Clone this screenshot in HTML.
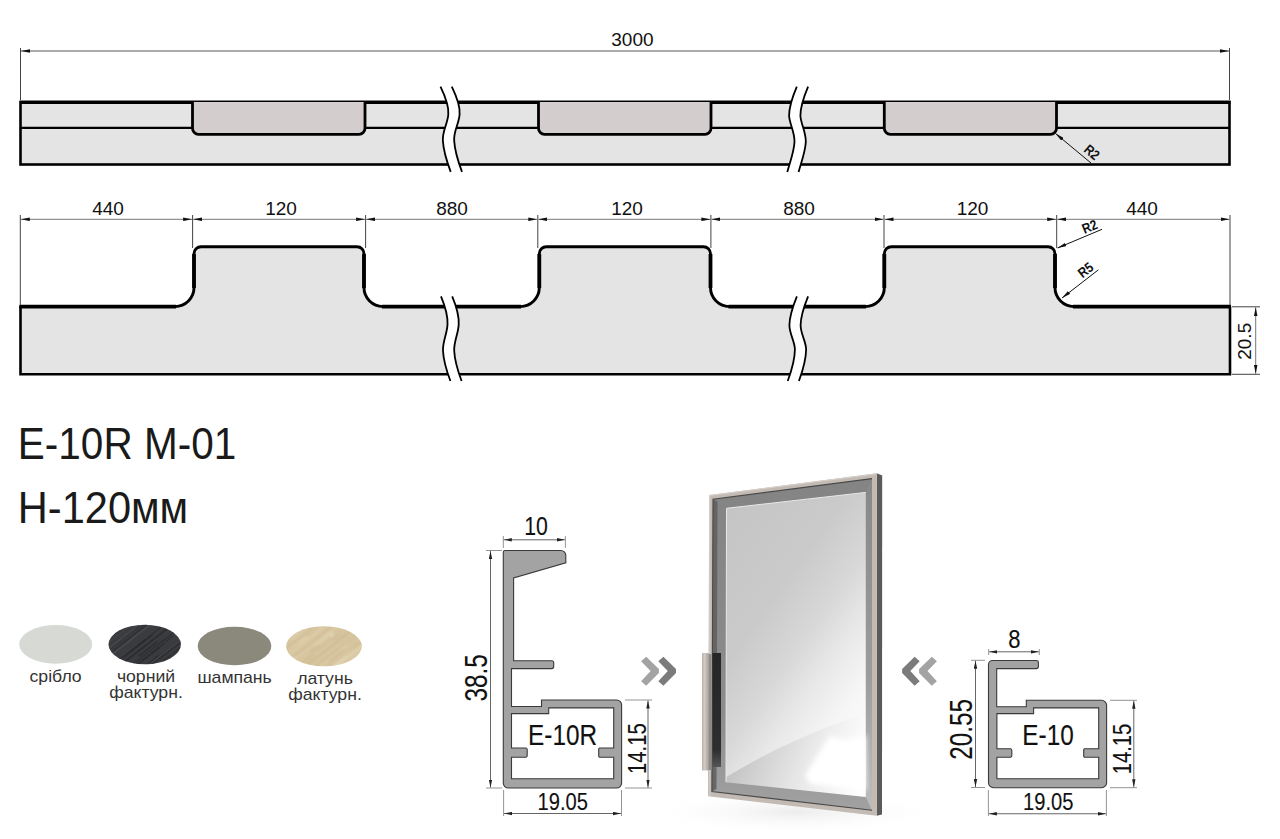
<!DOCTYPE html>
<html><head><meta charset="utf-8">
<style>
html,body{margin:0;padding:0;background:#fff;width:1280px;height:839px;overflow:hidden}
svg{display:block}
text{font-family:"Liberation Sans",sans-serif}
</style></head><body>
<svg width="1280" height="839" viewBox="0 0 1280 839">
<defs>
<marker id="ar" viewBox="0 0 9 4" refX="9" refY="2" markerWidth="9" markerHeight="4" markerUnits="userSpaceOnUse" orient="auto-start-reverse"><path d="M0 0.2 L9 2 L0 3.8 Z" fill="#111"/></marker>
<marker id="as" viewBox="0 0 8 4" refX="8" refY="2" markerWidth="8" markerHeight="4" markerUnits="userSpaceOnUse" orient="auto-start-reverse"><path d="M0 0.3 L8 2 L0 3.7 Z" fill="#222"/></marker>
</defs>
<rect width="1280" height="839" fill="#fff"/>

<!-- ===== Drawing 1 ===== -->
<g id="d1">
<line x1="20.5" y1="48" x2="20.5" y2="100" stroke="#444" stroke-width="1"/>
<line x1="1229.5" y1="48" x2="1229.5" y2="100" stroke="#444" stroke-width="1"/>
<line x1="21" y1="51" x2="1229" y2="51" stroke="#5a5a5a" stroke-width="1.1" marker-start="url(#ar)" marker-end="url(#ar)"/>
<text x="632.4" y="46.2" font-size="19" text-anchor="middle" fill="#111">3000</text>
<rect x="20.5" y="102" width="1209" height="62.5" fill="#e4e4e4" stroke="#000" stroke-width="2.6"/>
<line x1="20" y1="102.3" x2="1230.5" y2="102.3" stroke="#000" stroke-width="3.2"/>
<line x1="20" y1="127.8" x2="1230" y2="127.8" stroke="#000" stroke-width="2.2"/>
<path d="M192.5 102 V128.3 A6 6 0 0 0 198.5 134.3 H359 A6 6 0 0 0 365 128.3 V102" fill="#d3cdcd" stroke="#000" stroke-width="2.8"/>
<path d="M538.5 102 V128.3 A6 6 0 0 0 544.5 134.3 H705 A6 6 0 0 0 711 128.3 V102" fill="#d3cdcd" stroke="#000" stroke-width="2.8"/>
<path d="M884.3 102 V128.3 A6 6 0 0 0 890.3 134.3 H1050.5 A6 6 0 0 0 1056.5 128.3 V102" fill="#d3cdcd" stroke="#000" stroke-width="2.8"/>
<!-- breaks -->
<path d="M440.5 86.6 C446 98 449 108 448.3 114.6 C447.5 124 442 132 442.9 140.9 C443.5 152 447 162 450.7 171.9 L462 171.9 C458.3 162 454.5 152 454 140.9 C453 132 458.5 124 459.3 114.6 C460 108 457 98 452 86.6 Z" fill="#fff"/>
<path d="M440.5 86.6 C446 98 449 108 448.3 114.6 C447.5 124 442 132 442.9 140.9 C443.5 152 447 162 450.7 171.9" fill="none" stroke="#000" stroke-width="1.8"/>
<path d="M451.8 86.6 C457.3 98 460.3 108 459.6 114.6 C458.8 124 453.3 132 454.2 140.9 C454.8 152 458.3 162 462 171.9" fill="none" stroke="#000" stroke-width="1.8"/>
<path d="M796.8 86.6 C792 98 789 108 789.1 115.8 C789.5 124 794.8 132 794.5 142 C794 152 790 162 787.3 171.9 L798.6 171.9 C801.3 162 805.3 152 805.8 142 C806.1 132 800.8 124 800.4 115.8 C800.3 108 803.3 98 808.1 86.6 Z" fill="#fff"/>
<path d="M796.8 86.6 C792 98 789 108 789.1 115.8 C789.5 124 794.8 132 794.5 142 C794 152 790 162 787.3 171.9" fill="none" stroke="#000" stroke-width="1.8"/>
<path d="M808.1 86.6 C803.3 98 800.3 108 800.4 115.8 C800.8 124 806.1 132 805.8 142 C805.3 152 801.3 162 798.6 171.9" fill="none" stroke="#000" stroke-width="1.8"/>
<!-- R2 -->
<line x1="1091.2" y1="163.2" x2="1055.5" y2="133.5" stroke="#111" stroke-width="1" marker-end="url(#ar)"/>
<text font-size="14" font-weight="bold" fill="#111" transform="translate(1083 151) rotate(40) scale(0.85 1)">R2</text>
</g>
<!-- ===== Drawing 2 ===== -->
<g id="d2">
<path d="M20.5 306.6 H175.0 A19 19 0 0 0 194.0 287.6 V253.7 A7 7 0 0 1 201.0 246.7 H357.0 A7 7 0 0 1 364.0 253.7 V287.6 A19 19 0 0 0 383.0 306.6 H520.3 A19 19 0 0 0 539.3 287.6 V253.7 A7 7 0 0 1 546.3 246.7 H703.5 A7 7 0 0 1 710.5 253.7 V287.6 A19 19 0 0 0 729.5 306.6 H865.3 A19 19 0 0 0 884.3 287.6 V253.7 A7 7 0 0 1 891.3 246.7 H1048.0 A7 7 0 0 1 1055.0 253.7 V287.6 A19 19 0 0 0 1074.0 306.6 H1230 V374.3 H20.5 Z" fill="#e4e4e4" stroke="none"/>
<path d="M20.5 306.6 V374.3 H1230 V306.6" fill="none" stroke="#000" stroke-width="2.6"/>
<path d="M19.5 306.6 H175.0 A19 19 0 0 0 194.0 287.6 V253.7 A7 7 0 0 1 201.0 246.7 H357.0 A7 7 0 0 1 364.0 253.7 V287.6 A19 19 0 0 0 383.0 306.6 H520.3 A19 19 0 0 0 539.3 287.6 V253.7 A7 7 0 0 1 546.3 246.7 H703.5 A7 7 0 0 1 710.5 253.7 V287.6 A19 19 0 0 0 729.5 306.6 H865.3 A19 19 0 0 0 884.3 287.6 V253.7 A7 7 0 0 1 891.3 246.7 H1048.0 A7 7 0 0 1 1055.0 253.7 V287.6 A19 19 0 0 0 1074.0 306.6 H1231" fill="none" stroke="#000" stroke-width="2.9"/>
<path d="M19.5 306.6 H176 M382 306.6 H521 M728.5 306.6 H866 M1073 306.6 H1231" fill="none" stroke="#000" stroke-width="3.6"/>
<path d="M194 254 V288 M364 254 V288 M539.3 254 V288 M710.5 254 V288 M884.3 254 V288 M1055 254 V288" fill="none" stroke="#000" stroke-width="3.8"/>
<!-- dim chain -->
<g stroke="#444" stroke-width="1">
<line x1="20.3" y1="215" x2="20.3" y2="305"/>
<line x1="192.6" y1="215" x2="192.6" y2="248"/>
<line x1="365.6" y1="215" x2="365.6" y2="248"/>
<line x1="537.8" y1="215" x2="537.8" y2="248"/>
<line x1="710.9" y1="215" x2="710.9" y2="248"/>
<line x1="884" y1="215" x2="884" y2="248"/>
<line x1="1056.7" y1="215" x2="1056.7" y2="248"/>
<line x1="1230" y1="215" x2="1230" y2="305"/>
</g>
<g stroke="#777" stroke-width="1" marker-start="url(#ar)" marker-end="url(#ar)">
<line x1="20.8" y1="219.3" x2="192.1" y2="219.3"/>
<line x1="193.1" y1="219.3" x2="365.1" y2="219.3"/>
<line x1="366.1" y1="219.3" x2="537.3" y2="219.3"/>
<line x1="538.3" y1="219.3" x2="710.4" y2="219.3"/>
<line x1="711.4" y1="219.3" x2="883.5" y2="219.3"/>
<line x1="884.5" y1="219.3" x2="1056.2" y2="219.3"/>
<line x1="1057.2" y1="219.3" x2="1229.5" y2="219.3"/>
</g>
<g font-size="19" text-anchor="middle" fill="#111">
<text x="108" y="215.3">440</text>
<text x="281" y="215.3">120</text>
<text x="452" y="215.3">880</text>
<text x="627" y="215.3">120</text>
<text x="799" y="215.3">880</text>
<text x="972.5" y="215.3">120</text>
<text x="1142" y="215.3">440</text>
</g>
<!-- breaks -->
<path d="M441 296.4 C445 306 448 316 447.5 324.6 C447 334 442.5 342 443 350.8 C443.5 362 447 372 450.4 381 L461.4 381 C458 372 454.5 362 454 350.8 C453.5 342 458 334 458.5 324.6 C459 316 456 306 452 296.4 Z" fill="#fff"/>
<path d="M441 296.4 C445 306 448 316 447.5 324.6 C447 334 442.5 342 443 350.8 C443.5 362 447 372 450.4 381" fill="none" stroke="#000" stroke-width="1.8"/>
<path d="M452.2 296.4 C456.2 306 459.2 316 458.7 324.6 C458.2 334 453.7 342 454.2 350.8 C454.7 362 458.2 372 461.6 381" fill="none" stroke="#000" stroke-width="1.8"/>
<path d="M796.9 296.4 C793 306 789.5 316 789.4 325.2 C789.5 334 795 342 794.9 349.5 C794.8 362 791 372 787.7 381 L798.9 381 C802.2 372 806 362 806.1 349.5 C806.2 342 800.7 334 800.6 325.2 C800.7 316 804.2 306 808.1 296.4 Z" fill="#fff"/>
<path d="M796.9 296.4 C793 306 789.5 316 789.4 325.2 C789.5 334 795 342 794.9 349.5 C794.8 362 791 372 787.7 381" fill="none" stroke="#000" stroke-width="1.8"/>
<path d="M808.1 296.4 C804.2 306 800.7 316 800.6 325.2 C800.7 334 806.2 342 806.1 349.5 C806 362 802.2 372 798.9 381" fill="none" stroke="#000" stroke-width="1.8"/>
<!-- 20.5 -->
<g stroke="#444" stroke-width="1">
<line x1="1232" y1="306.8" x2="1260" y2="306.8"/>
<line x1="1232" y1="374.3" x2="1260" y2="374.3"/>
</g>
<line x1="1255.7" y1="307.3" x2="1255.7" y2="373.8" stroke="#777" stroke-width="1" marker-start="url(#ar)" marker-end="url(#ar)"/>
<text font-size="19" text-anchor="middle" fill="#111" transform="translate(1251 341.3) rotate(-90)">20.5</text>
<!-- R2 R5 -->
<line x1="1102" y1="229.3" x2="1057.5" y2="248" stroke="#111" stroke-width="1" marker-end="url(#ar)"/>
<text font-size="14" font-weight="bold" fill="#111" transform="translate(1084.5 234) rotate(-23) scale(0.85 1)">R2</text>
<line x1="1098.4" y1="269.8" x2="1062" y2="298" stroke="#111" stroke-width="1" marker-end="url(#ar)"/>
<text font-size="14" font-weight="bold" fill="#111" transform="translate(1082.5 278.5) rotate(-37.7) scale(0.85 1)">R5</text>
</g>
<!-- ===== Title ===== -->
<g fill="#1a1a1a" font-size="42">
<text transform="translate(17.8 458.7) scale(0.965 1.065)">E-10R M-01</text>
<text transform="translate(17.8 522.7) scale(0.99 1.035)">H-120мм</text>
</g>

<!-- ===== Swatches ===== -->
<g id="sw">
<ellipse cx="55.7" cy="644.4" rx="36.5" ry="19.3" fill="#d7d9d4"/>
<filter id="bl" x="-10%" y="-10%" width="120%" height="120%"><feGaussianBlur stdDeviation="0.6"/></filter>
<filter id="bl3" x="-10%" y="-10%" width="120%" height="120%"><feGaussianBlur stdDeviation="1.2"/></filter>
<clipPath id="cb"><ellipse cx="144.7" cy="644.5" rx="36.2" ry="19.7"/></clipPath>
<clipPath id="cr"><ellipse cx="324" cy="646.3" rx="37.8" ry="20"/></clipPath>
<ellipse cx="144.7" cy="644.5" rx="36.2" ry="19.7" fill="#3a3b3e"/>
<ellipse cx="234.5" cy="646" rx="36.8" ry="19.3" fill="#8a897b"/>
<ellipse cx="324" cy="646.3" rx="37.8" ry="20" fill="#d7c59f"/>
<g clip-path="url(#cb)"><g filter="url(#bl)">
<line x1="122.6" y1="637.8" x2="138.5" y2="625.4" stroke="#242427" stroke-width="1.0" stroke-opacity="0.38"/>
<line x1="129.9" y1="651.9" x2="145.7" y2="639.6" stroke="#242427" stroke-width="1.2" stroke-opacity="0.38"/>
<line x1="132.5" y1="664.5" x2="177.4" y2="629.5" stroke="#242427" stroke-width="1.2" stroke-opacity="0.53"/>
<line x1="146.8" y1="681.0" x2="175.0" y2="658.9" stroke="#2a2a2d" stroke-width="1.1" stroke-opacity="0.61"/>
<line x1="128.4" y1="670.4" x2="172.6" y2="635.9" stroke="#2a2a2d" stroke-width="1.0" stroke-opacity="0.60"/>
<line x1="91.1" y1="640.4" x2="141.5" y2="601.0" stroke="#48484c" stroke-width="1.4" stroke-opacity="0.56"/>
<line x1="152.3" y1="682.8" x2="174.3" y2="665.6" stroke="#2a2a2d" stroke-width="0.7" stroke-opacity="0.49"/>
<line x1="118.8" y1="662.9" x2="165.2" y2="626.7" stroke="#242427" stroke-width="0.7" stroke-opacity="0.54"/>
<line x1="144.8" y1="666.3" x2="158.8" y2="655.3" stroke="#242427" stroke-width="1.4" stroke-opacity="0.61"/>
<line x1="137.4" y1="683.4" x2="182.9" y2="647.9" stroke="#48484c" stroke-width="0.7" stroke-opacity="0.39"/>
<line x1="109.9" y1="656.2" x2="163.1" y2="614.6" stroke="#505054" stroke-width="1.2" stroke-opacity="0.80"/>
<line x1="132.2" y1="685.5" x2="181.9" y2="646.7" stroke="#242427" stroke-width="1.5" stroke-opacity="0.51"/>
<line x1="136.0" y1="665.9" x2="164.1" y2="644.0" stroke="#2a2a2d" stroke-width="1.0" stroke-opacity="0.76"/>
<line x1="125.5" y1="656.3" x2="153.0" y2="634.7" stroke="#2a2a2d" stroke-width="1.4" stroke-opacity="0.74"/>
<line x1="101.5" y1="656.5" x2="163.5" y2="608.2" stroke="#2a2a2d" stroke-width="0.8" stroke-opacity="0.43"/>
<line x1="104.8" y1="645.5" x2="149.9" y2="610.2" stroke="#505054" stroke-width="0.9" stroke-opacity="0.42"/>
<line x1="138.7" y1="656.3" x2="157.6" y2="641.5" stroke="#242427" stroke-width="1.1" stroke-opacity="0.74"/>
<line x1="152.5" y1="685.6" x2="186.9" y2="658.7" stroke="#48484c" stroke-width="0.7" stroke-opacity="0.64"/>
<line x1="105.9" y1="628.8" x2="126.9" y2="612.4" stroke="#505054" stroke-width="1.2" stroke-opacity="0.40"/>
<line x1="125.3" y1="661.4" x2="171.8" y2="625.0" stroke="#242427" stroke-width="1.5" stroke-opacity="0.63"/>
<line x1="107.3" y1="637.0" x2="139.8" y2="611.6" stroke="#242427" stroke-width="0.7" stroke-opacity="0.57"/>
<line x1="157.8" y1="684.6" x2="177.8" y2="669.0" stroke="#505054" stroke-width="1.3" stroke-opacity="0.57"/>
<line x1="121.5" y1="685.9" x2="187.2" y2="634.5" stroke="#505054" stroke-width="0.7" stroke-opacity="0.59"/>
<line x1="91.6" y1="632.6" x2="152.3" y2="585.2" stroke="#505054" stroke-width="1.1" stroke-opacity="0.76"/>
<line x1="113.1" y1="650.7" x2="153.4" y2="619.2" stroke="#2a2a2d" stroke-width="1.2" stroke-opacity="0.70"/>
<line x1="135.3" y1="677.4" x2="169.8" y2="650.4" stroke="#2a2a2d" stroke-width="0.8" stroke-opacity="0.57"/>
<line x1="144.5" y1="670.5" x2="183.0" y2="640.4" stroke="#2a2a2d" stroke-width="1.3" stroke-opacity="0.78"/>
<line x1="116.0" y1="660.9" x2="182.0" y2="609.4" stroke="#505054" stroke-width="0.7" stroke-opacity="0.40"/>
<line x1="106.9" y1="669.3" x2="174.5" y2="616.4" stroke="#242427" stroke-width="1.1" stroke-opacity="0.64"/>
<line x1="121.2" y1="686.1" x2="184.5" y2="636.6" stroke="#2a2a2d" stroke-width="1.1" stroke-opacity="0.43"/>
<line x1="122.8" y1="685.1" x2="189.7" y2="632.8" stroke="#48484c" stroke-width="1.1" stroke-opacity="0.68"/>
<line x1="112.3" y1="617.6" x2="125.7" y2="607.2" stroke="#48484c" stroke-width="1.4" stroke-opacity="0.42"/>
<line x1="152.4" y1="675.4" x2="184.1" y2="650.7" stroke="#2a2a2d" stroke-width="0.6" stroke-opacity="0.71"/>
<line x1="139.7" y1="663.3" x2="159.4" y2="647.9" stroke="#2a2a2d" stroke-width="1.4" stroke-opacity="0.44"/>
<line x1="106.8" y1="649.7" x2="151.8" y2="614.5" stroke="#505054" stroke-width="1.1" stroke-opacity="0.73"/>
<line x1="102.3" y1="631.3" x2="151.6" y2="592.8" stroke="#48484c" stroke-width="1.4" stroke-opacity="0.75"/>
<line x1="90.5" y1="645.1" x2="151.7" y2="597.3" stroke="#2a2a2d" stroke-width="1.2" stroke-opacity="0.70"/>
<line x1="112.6" y1="628.3" x2="131.2" y2="613.8" stroke="#242427" stroke-width="0.9" stroke-opacity="0.58"/>
<line x1="130.1" y1="669.8" x2="173.7" y2="635.8" stroke="#2a2a2d" stroke-width="0.8" stroke-opacity="0.37"/>
<line x1="93.0" y1="649.5" x2="155.5" y2="600.7" stroke="#242427" stroke-width="1.0" stroke-opacity="0.63"/>
<line x1="126.4" y1="657.1" x2="163.9" y2="627.8" stroke="#48484c" stroke-width="1.1" stroke-opacity="0.46"/>
<line x1="119.7" y1="665.7" x2="183.8" y2="615.7" stroke="#2a2a2d" stroke-width="1.4" stroke-opacity="0.41"/>
<line x1="112.5" y1="636.0" x2="138.0" y2="616.1" stroke="#242427" stroke-width="0.8" stroke-opacity="0.49"/>
<line x1="106.4" y1="634.2" x2="154.7" y2="596.5" stroke="#505054" stroke-width="0.7" stroke-opacity="0.75"/>
<line x1="146.0" y1="681.7" x2="180.4" y2="654.8" stroke="#48484c" stroke-width="0.8" stroke-opacity="0.65"/>
</g></g>
<g clip-path="url(#cr)"><g filter="url(#bl3)">
<line x1="295.1" y1="636.1" x2="331.1" y2="608.1" stroke="#cdb992" stroke-width="1.0" stroke-opacity="0.49"/>
<line x1="308.7" y1="675.1" x2="346.9" y2="645.3" stroke="#e6d8b6" stroke-width="1.3" stroke-opacity="0.58"/>
<line x1="287.5" y1="663.7" x2="354.1" y2="611.6" stroke="#ebdfc2" stroke-width="2.0" stroke-opacity="0.40"/>
<line x1="290.8" y1="638.4" x2="318.7" y2="616.6" stroke="#ebdfc2" stroke-width="1.8" stroke-opacity="0.73"/>
<line x1="318.1" y1="676.1" x2="362.0" y2="641.9" stroke="#cdb992" stroke-width="1.6" stroke-opacity="0.39"/>
<line x1="296.2" y1="624.5" x2="312.4" y2="611.9" stroke="#e6d8b6" stroke-width="1.6" stroke-opacity="0.71"/>
<line x1="276.7" y1="649.1" x2="340.0" y2="599.6" stroke="#cdb992" stroke-width="0.8" stroke-opacity="0.80"/>
<line x1="319.1" y1="645.0" x2="333.5" y2="633.8" stroke="#ebdfc2" stroke-width="1.9" stroke-opacity="0.79"/>
<line x1="282.1" y1="644.6" x2="331.5" y2="606.1" stroke="#ebdfc2" stroke-width="1.1" stroke-opacity="0.58"/>
<line x1="291.7" y1="641.6" x2="318.5" y2="620.7" stroke="#e6d8b6" stroke-width="0.8" stroke-opacity="0.58"/>
<line x1="329.5" y1="695.8" x2="367.9" y2="665.7" stroke="#cdb992" stroke-width="1.6" stroke-opacity="0.60"/>
<line x1="339.0" y1="683.8" x2="363.6" y2="664.5" stroke="#ebdfc2" stroke-width="1.2" stroke-opacity="0.72"/>
<line x1="320.4" y1="673.7" x2="353.0" y2="648.3" stroke="#e6d8b6" stroke-width="1.8" stroke-opacity="0.36"/>
<line x1="328.8" y1="661.3" x2="344.0" y2="649.5" stroke="#cdb992" stroke-width="1.8" stroke-opacity="0.65"/>
<line x1="289.2" y1="649.9" x2="328.4" y2="619.2" stroke="#ebdfc2" stroke-width="1.1" stroke-opacity="0.35"/>
<line x1="298.8" y1="643.6" x2="329.9" y2="619.3" stroke="#e6d8b6" stroke-width="2.0" stroke-opacity="0.49"/>
<line x1="288.7" y1="654.0" x2="328.9" y2="622.7" stroke="#ebdfc2" stroke-width="1.1" stroke-opacity="0.70"/>
<line x1="284.6" y1="642.2" x2="331.5" y2="605.6" stroke="#cdb992" stroke-width="0.8" stroke-opacity="0.49"/>
<line x1="283.4" y1="650.5" x2="340.0" y2="606.3" stroke="#cdb992" stroke-width="1.7" stroke-opacity="0.67"/>
<line x1="310.1" y1="652.4" x2="330.5" y2="636.5" stroke="#cdb992" stroke-width="1.7" stroke-opacity="0.72"/>
<line x1="275.1" y1="646.7" x2="336.7" y2="598.5" stroke="#e6d8b6" stroke-width="1.8" stroke-opacity="0.61"/>
<line x1="334.2" y1="679.6" x2="359.8" y2="659.7" stroke="#e6d8b6" stroke-width="0.9" stroke-opacity="0.64"/>
<line x1="338.2" y1="682.8" x2="353.0" y2="671.2" stroke="#e6d8b6" stroke-width="1.6" stroke-opacity="0.66"/>
<line x1="287.4" y1="664.0" x2="343.9" y2="619.9" stroke="#e6d8b6" stroke-width="1.6" stroke-opacity="0.38"/>
<line x1="318.4" y1="677.9" x2="346.1" y2="656.2" stroke="#ebdfc2" stroke-width="1.1" stroke-opacity="0.64"/>
<line x1="294.3" y1="674.8" x2="360.5" y2="623.1" stroke="#c7b188" stroke-width="1.7" stroke-opacity="0.63"/>
<line x1="311.2" y1="670.5" x2="338.1" y2="649.5" stroke="#c7b188" stroke-width="1.5" stroke-opacity="0.41"/>
<line x1="314.0" y1="646.3" x2="331.8" y2="632.4" stroke="#ebdfc2" stroke-width="1.6" stroke-opacity="0.48"/>
<line x1="314.8" y1="655.2" x2="333.7" y2="640.4" stroke="#ebdfc2" stroke-width="1.2" stroke-opacity="0.39"/>
<line x1="298.3" y1="666.2" x2="340.3" y2="633.3" stroke="#cdb992" stroke-width="2.0" stroke-opacity="0.52"/>
<line x1="343.5" y1="685.6" x2="360.7" y2="672.1" stroke="#c7b188" stroke-width="1.9" stroke-opacity="0.41"/>
<line x1="313.6" y1="683.5" x2="367.4" y2="641.5" stroke="#ebdfc2" stroke-width="1.4" stroke-opacity="0.74"/>
<line x1="287.0" y1="654.3" x2="339.4" y2="613.3" stroke="#cdb992" stroke-width="1.2" stroke-opacity="0.41"/>
<line x1="307.2" y1="636.5" x2="319.1" y2="627.2" stroke="#c7b188" stroke-width="1.8" stroke-opacity="0.40"/>
<line x1="334.6" y1="680.7" x2="363.7" y2="657.9" stroke="#c7b188" stroke-width="0.9" stroke-opacity="0.53"/>
<line x1="307.8" y1="687.5" x2="364.7" y2="643.1" stroke="#e6d8b6" stroke-width="1.1" stroke-opacity="0.37"/>
<line x1="299.5" y1="688.5" x2="369.3" y2="634.0" stroke="#cdb992" stroke-width="1.4" stroke-opacity="0.44"/>
<line x1="294.6" y1="656.8" x2="354.8" y2="609.7" stroke="#cdb992" stroke-width="1.9" stroke-opacity="0.77"/>
<line x1="302.2" y1="676.8" x2="357.7" y2="633.4" stroke="#cdb992" stroke-width="1.5" stroke-opacity="0.41"/>
<line x1="320.4" y1="682.9" x2="365.0" y2="648.0" stroke="#ebdfc2" stroke-width="1.4" stroke-opacity="0.50"/>
</g></g>
<g font-size="16.8" fill="#333" text-anchor="middle">
<text transform="translate(55.6 682) scale(1.05 1)">срібло</text>
<text transform="translate(146 682) scale(1.05 1)">чорний</text>
<text transform="translate(146 697.5) scale(1.05 1)">фактурн.</text>
<text transform="translate(234.6 683.2) scale(1.05 1)">шампань</text>
<text transform="translate(325 684) scale(1.05 1)">латунь</text>
<text transform="translate(325 700) scale(1.05 1)">фактурн.</text>
</g>
</g>

<!-- ===== E-10R profile ===== -->
<g id="p1">
<path fill-rule="evenodd" fill="#a3a3a3" stroke="#3a3a3a" stroke-width="1.1" d="M503.3 552 Q503.3 550.5 505 550.5 H560.8 A5 5 0 0 1 565.8 555.5 V562.9 L513.6 578 V660.8 H551.7 A2 2 0 0 1 553.7 662.8 V666.6 A2 2 0 0 1 551.7 668.6 H511.5 V706.5 H541.5 V700 H616.6 A5 5 0 0 1 621.6 705 V783 A5 5 0 0 1 616.6 788 H508.3 A5 5 0 0 1 503.3 783 Z M511.5 713.6 H548.7 V707.9 H613.7 V748 H599.5 A1.5 1.5 0 0 0 598.7 749.5 V755.7 A1.5 1.5 0 0 0 599.5 757.2 H613.7 V778.7 H511.5 V757.2 H526 A1.5 1.5 0 0 0 527.2 755.7 V749.5 A1.5 1.5 0 0 0 526 748 H511.5 Z"/>
<g stroke="#888" stroke-width="0.9">
<line x1="503.3" y1="536" x2="503.3" y2="548"/>
<line x1="565.4" y1="536" x2="565.4" y2="548"/>
<line x1="486" y1="550.5" x2="502" y2="550.5"/>
<line x1="486" y1="788" x2="502" y2="788"/>
<line x1="625" y1="700" x2="652" y2="700"/>
<line x1="625" y1="788" x2="652" y2="788"/>
<line x1="503.6" y1="790" x2="503.6" y2="816"/>
<line x1="621.5" y1="790" x2="621.5" y2="816"/>
</g>
<g stroke="#555" stroke-width="0.9" marker-start="url(#as)" marker-end="url(#as)">
<line x1="503.8" y1="539.8" x2="564.9" y2="539.8"/>
<line x1="490.5" y1="551" x2="490.5" y2="787.5"/>
<line x1="648" y1="700.5" x2="648" y2="787.5"/>
<line x1="504.1" y1="813.5" x2="621" y2="813.5"/>
</g>
<g fill="#111" stroke="#111" stroke-width="0.12" text-anchor="middle">
<text font-size="25" transform="translate(536 535) scale(0.85 1)">10</text>
<text font-size="31.5" transform="translate(486.7 677.8) rotate(-90) scale(0.77 1)">38.5</text>
<text font-size="25" transform="translate(646 748.6) rotate(-90) scale(0.81 1)">14.15</text>
<text font-size="24" transform="translate(562.7 809.8) scale(0.84 1)">19.05</text>
<text font-size="28" transform="translate(562.6 745.1) scale(0.87 1.06)">E-10R</text>
</g>
</g>

<!-- ===== E-10 profile ===== -->
<g id="p2">
<path fill-rule="evenodd" fill="#a3a3a3" stroke="#3a3a3a" stroke-width="1.1" d="M988.5 664.5 A4 4 0 0 1 992.5 660.5 H1036.4 A2 2 0 0 1 1038.4 662.5 V666.6 A2 2 0 0 1 1036.4 668.6 H996.7 V706.7 H1026.3 V700.3 H1101.6 A5 5 0 0 1 1106.6 705.3 V782.7 A5 5 0 0 1 1101.6 787.7 H993.5 A5 5 0 0 1 988.5 782.7 Z M996.9 713.6 H1033.6 V707.9 H1098.7 V748.7 H1084.5 A1.5 1.5 0 0 0 1083.7 750.2 V755.7 A1.5 1.5 0 0 0 1084.5 757.2 H1098.7 V778.7 H996.9 V757.2 H1010.6 A1.5 1.5 0 0 0 1011.8 755.7 V750.2 A1.5 1.5 0 0 0 1010.6 748.7 H996.9 Z"/>
<g stroke="#888" stroke-width="0.9">
<line x1="988.7" y1="649" x2="988.7" y2="655"/>
<line x1="1039.3" y1="649" x2="1039.3" y2="655"/>
<line x1="971" y1="660.3" x2="985" y2="660.3"/>
<line x1="971" y1="787.5" x2="985" y2="787.5"/>
<line x1="1110" y1="700.3" x2="1137" y2="700.3"/>
<line x1="1110" y1="787.7" x2="1137" y2="787.7"/>
<line x1="988.4" y1="790" x2="988.4" y2="816"/>
<line x1="1106.4" y1="790" x2="1106.4" y2="816"/>
</g>
<g stroke="#555" stroke-width="0.9" marker-start="url(#as)" marker-end="url(#as)">
<line x1="989.2" y1="651.8" x2="1038.8" y2="651.8"/>
<line x1="975.5" y1="660.8" x2="975.5" y2="787"/>
<line x1="1133.8" y1="700.8" x2="1133.8" y2="787.2"/>
<line x1="988.9" y1="813.75" x2="1105.9" y2="813.75"/>
</g>
<g fill="#111" stroke="#111" stroke-width="0.12" text-anchor="middle">
<text font-size="25" transform="translate(1014.4 647.7) scale(0.88 1)">8</text>
<text font-size="31.5" transform="translate(972.1 729.3) rotate(-90) scale(0.77 1)">20.55</text>
<text font-size="25" transform="translate(1131 749) rotate(-90) scale(0.81 1)">14.15</text>
<text font-size="24" transform="translate(1048.2 809.8) scale(0.84 1)">19.05</text>
<text font-size="28" transform="translate(1048 744.8) scale(0.87 1.06)">E-10</text>
</g>
</g>

<!-- ===== Chevrons ===== -->
<g>
<polygon points="641.1,661.3 646.2,656.8 658.9,669 658.9,673 646.2,685.8 641.1,681.3 650.6,671" fill="#a3a3a3"/>
<polygon points="658.3,661.3 663.4,656.8 676,669 676,673 663.4,685.8 658.3,681.3 667.8,671" fill="#7b7b7b"/>
<polygon points="919.7,661.3 914.6,656.8 902.1,669 902.1,673 914.6,685.8 919.7,681.3 910.3,671" fill="#7b7b7b"/>
<polygon points="936.9,661.3 931.8,656.8 919.1,669 919.1,673 931.8,685.8 936.9,681.3 927.5,671" fill="#a3a3a3"/>
</g>

<!-- ===== Door ===== -->
<g id="door">
<defs>
<linearGradient id="glass" gradientUnits="userSpaceOnUse" x1="730" y1="510" x2="943" y2="662.5">
<stop offset="0" stop-color="#c5c5c5"/>
<stop offset="0.33" stop-color="#cacaca"/>
<stop offset="0.52" stop-color="#d8d8d8"/>
<stop offset="0.65" stop-color="#e8e8e8"/>
<stop offset="0.8" stop-color="#f6f6f6"/>
<stop offset="1" stop-color="#ffffff"/>
</linearGradient>
<linearGradient id="wedge" gradientUnits="userSpaceOnUse" x1="727" y1="0" x2="866" y2="0">
<stop offset="0" stop-color="#000" stop-opacity="0.13"/>
<stop offset="0.6" stop-color="#000" stop-opacity="0.05"/>
<stop offset="1" stop-color="#000" stop-opacity="0"/>
</linearGradient>
<filter id="bl2" x="-20%" y="-20%" width="140%" height="140%"><feGaussianBlur stdDeviation="2.5"/></filter>
<linearGradient id="bandAll" gradientUnits="userSpaceOnUse" x1="0" y1="480" x2="0" y2="812">
<stop offset="0" stop-color="#848484"/>
<stop offset="0.7" stop-color="#8c8c8c"/>
<stop offset="1" stop-color="#a2a2a2"/>
</linearGradient>
<linearGradient id="bandR" gradientUnits="userSpaceOnUse" x1="0" y1="480" x2="0" y2="810">
<stop offset="0" stop-color="#888888"/>
<stop offset="0.6" stop-color="#9c9c9c"/>
<stop offset="1" stop-color="#bdbdbd"/>
</linearGradient>
<linearGradient id="bandB" gradientUnits="userSpaceOnUse" x1="712" y1="0" x2="872" y2="0">
<stop offset="0" stop-color="#858585"/>
<stop offset="1" stop-color="#a9a9a9"/>
</linearGradient>
<linearGradient id="bandL" gradientUnits="userSpaceOnUse" x1="713" y1="0" x2="727" y2="0">
<stop offset="0" stop-color="#6e6e6e"/>
<stop offset="0.35" stop-color="#7e7e7e"/>
<stop offset="1" stop-color="#8c8c8c"/>
</linearGradient>
<linearGradient id="hdl" x1="0" y1="0" x2="1" y2="0">
<stop offset="0" stop-color="#b9b1ab"/>
<stop offset="0.4" stop-color="#d3cbc5"/>
<stop offset="1" stop-color="#a9a19b"/>
</linearGradient>
<linearGradient id="hdk" x1="0" y1="0" x2="0" y2="1">
<stop offset="0" stop-color="#262626"/>
<stop offset="0.85" stop-color="#2e2e2e"/>
<stop offset="1" stop-color="#555"/>
</linearGradient>
<radialGradient id="refl" cx="0.5" cy="0.5" r="0.5">
<stop offset="0" stop-color="#ececec"/>
<stop offset="1" stop-color="#ffffff" stop-opacity="0"/>
</radialGradient>
</defs>
<ellipse cx="795" cy="812" rx="150" ry="22" fill="url(#refl)"/>
<polygon points="876.7,473.3 882.2,475.5 882,814.5 876.7,815.8" fill="#5a5a5a"/>
<polygon points="709.2,495 876.7,473.3 876.7,815.8 708,796.3" fill="#c2bab3"/>
<polyline points="709.8,796 709.8,495.5 876,474" fill="none" stroke="#d6cfca" stroke-width="1.2"/>
<polygon points="713,499.3 872,478.6 872,810.3 711.9,791.5" fill="url(#bandAll)"/>
<polygon points="872,478.6 872,810.3 865.8,797 865.8,492.4" fill="url(#bandR)"/>
<polygon points="713,499.3 717.5,501.5 716.5,789 711.9,791.5" fill="#5e5e5e" opacity="0.85"/>
<polyline points="872,810.3 711.9,791.5 713,499.3 872,478.6" fill="none" stroke="#4a4a4a" stroke-width="1.1"/>
<polygon points="726.5,508.3 865.8,492.4 865.8,797 726,782.2" fill="url(#glass)"/>
<path d="M726.2 777 C755 760 790 740 866 712 V797 L726 782.2 Z" fill="url(#wedge)"/>
<path d="M805 775 C815 760 825 742 830 736 C845 742 855 738 866 735 V790 L810 784 Z" fill="#fff" filter="url(#bl2)"/>
<polyline points="726,782.2 726.5,508.3 865.8,492.4" fill="none" stroke="#e8e8e8" stroke-width="1"/>
<rect x="702" y="653" width="6.5" height="117.5" fill="url(#hdl)"/>
<rect x="708.5" y="654" width="3" height="116" fill="#8f8a86"/>
<rect x="712.4" y="653" width="8.6" height="114" fill="url(#hdk)"/>
</g>

</svg>
</body></html>
